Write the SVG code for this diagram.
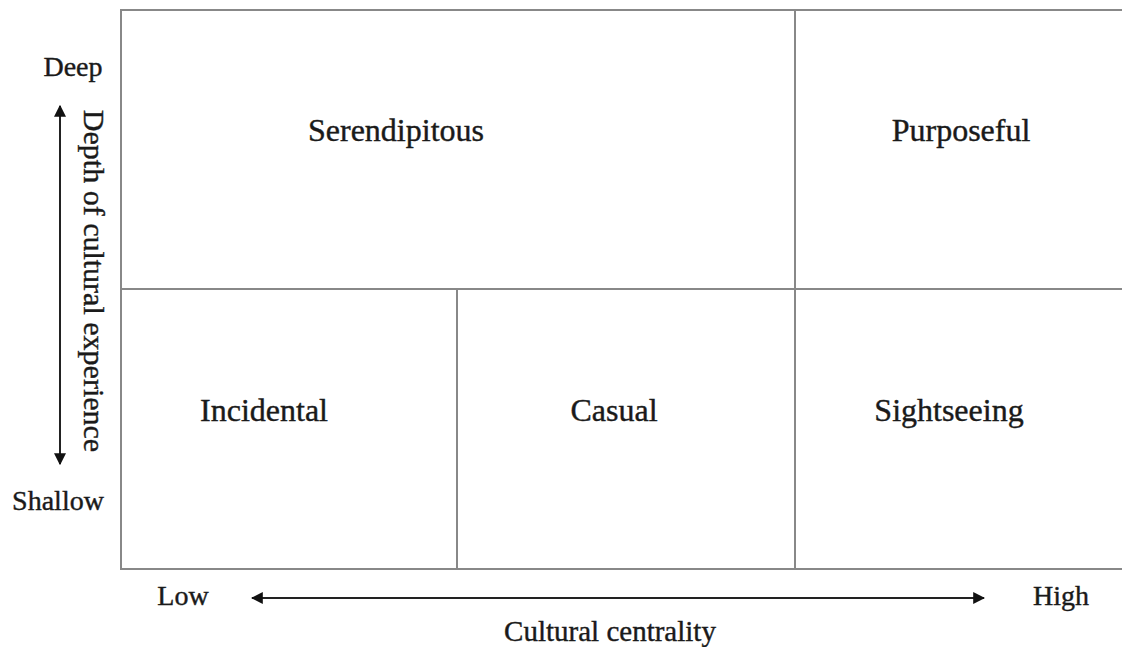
<svg xmlns="http://www.w3.org/2000/svg" width="1122" height="647" viewBox="0 0 1122 647">
<defs>
<style>
.grid{stroke:#888;stroke-width:2;fill:none}
.ax{stroke:#222;stroke-width:2;fill:none}
text{font-family:"Liberation Serif","Times New Roman",serif;fill:#1a1a1a;stroke:#1a1a1a;stroke-width:0.4;text-anchor:middle}
.q{font-size:32px}
.a{font-size:28px}
</style>
<marker id="ah" viewBox="0 0 10 10" refX="9" refY="5" markerWidth="6" markerHeight="6" orient="auto-start-reverse" markerUnits="strokeWidth">
<path d="M0,0 L10,5 L0,10 z" fill="#111"/>
</marker>
</defs>
<rect width="1122" height="647" fill="#fff"/>
<g id="grid">
<path class="grid" d="M1122,10 H121 V569 H1122 M121,289 H1122 M457,289 V569 M795,10 V569"/>
</g>
<g id="connectors">
<line class="ax" x1="60" y1="106" x2="60" y2="464" marker-start="url(#ah)" marker-end="url(#ah)"/>
<line class="ax" x1="252" y1="598" x2="984" y2="598" marker-start="url(#ah)" marker-end="url(#ah)"/>
</g>
<g id="serendipitous"><text class="q" x="396" y="141">Serendipitous</text></g>
<g id="purposeful"><text class="q" x="961" y="141">Purposeful</text></g>
<g id="incidental"><text class="q" x="264" y="421">Incidental</text></g>
<g id="casual"><text class="q" x="614" y="421">Casual</text></g>
<g id="sightseeing"><text class="q" x="949" y="421">Sightseeing</text></g>
<g id="axis-labels">
<text class="a" x="73" y="76">Deep</text>
<text class="a" x="58" y="510">Shallow</text>
<text class="a" x="183" y="605">Low</text>
<text class="a" x="1061" y="605">High</text>
<text class="a" x="610" y="641" style="font-size:29px">Cultural centrality</text>
<text class="a" transform="translate(84,281) rotate(90)" style="font-size:30px">Depth of cultural experience</text>
</g>
</svg>
